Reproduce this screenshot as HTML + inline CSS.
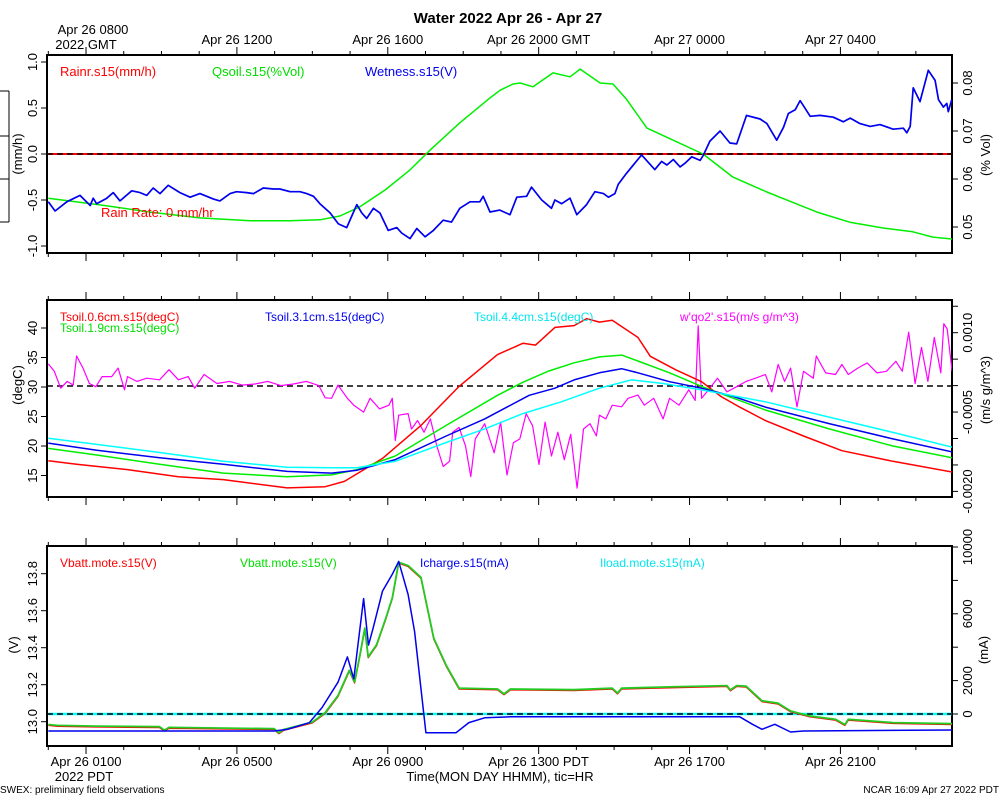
<!DOCTYPE html>
<html><head><meta charset="utf-8"><style>
html,body{margin:0;padding:0;background:#fff;}
svg{display:block;font-family:"Liberation Sans",sans-serif;}
</style></head><body>
<svg id="chart" width="1000" height="800" viewBox="0 0 1000 800"></svg>
<script>
// ---- Panel 1 data ----
const wetT = [0,0.18,0.49,0.84,1.11,1.19,1.28,1.55,1.72,1.90,2.21,2.43,2.61,2.78,2.96,3.18,3.49,3.76,4.02,4.38,4.55,4.82,4.99,5.26,5.44,5.70,5.97,6.14,6.41,6.67,6.85,7.03,7.20,7.47,7.69,7.91,8.18,8.31,8.44,8.62,8.79,9.01,9.24,9.37,9.59,9.77,9.99,10.21,10.47,10.69,10.91,11.18,11.44,11.53,11.71,11.97,12.24,12.42,12.68,12.81,13.08,13.34,13.43,13.61,13.83,14.01,14.27,14.49,14.72,14.85,15.02,15.11,15.33,15.73,16.08,16.26,16.40,16.57,16.75,16.88,17.06,17.28,17.37,17.54,17.81,18.07,18.25,18.51,18.87,19.05,19.31,19.49,19.62,19.80,19.93,20.20,20.46,20.81,21.08,21.26,21.52,21.79,22.05,22.40,22.67,22.76,22.85,22.93,23.11,23.33,23.51,23.60,23.73,23.82,23.86,23.95];
const wetV = [-0.52,-0.62,-0.52,-0.45,-0.56,-0.48,-0.54,-0.48,-0.42,-0.51,-0.40,-0.42,-0.45,-0.37,-0.43,-0.34,-0.42,-0.47,-0.43,-0.49,-0.51,-0.43,-0.41,-0.42,-0.43,-0.37,-0.38,-0.38,-0.41,-0.41,-0.43,-0.46,-0.54,-0.64,-0.76,-0.80,-0.55,-0.64,-0.70,-0.59,-0.64,-0.83,-0.80,-0.86,-0.92,-0.81,-0.90,-0.83,-0.72,-0.74,-0.59,-0.52,-0.52,-0.46,-0.63,-0.61,-0.66,-0.47,-0.46,-0.36,-0.50,-0.59,-0.50,-0.54,-0.48,-0.66,-0.55,-0.41,-0.43,-0.47,-0.43,-0.33,-0.21,-0.01,-0.17,-0.08,-0.12,-0.06,-0.14,-0.10,-0.03,-0.07,-0.01,0.14,0.25,0.12,0.11,0.42,0.38,0.33,0.15,0.29,0.44,0.48,0.58,0.41,0.42,0.40,0.35,0.39,0.33,0.30,0.32,0.27,0.28,0.23,0.30,0.72,0.57,0.91,0.80,0.59,0.51,0.55,0.46,0.59];
const qsoilT = [0,1.37,2.70,4.02,5.35,6.41,7.20,7.73,8.26,8.93,9.59,10.12,10.91,11.71,11.98,12.32,12.51,12.85,13.38,13.83,14.10,14.63,14.97,15.34,15.87,16.56,17.36,18.15,19.05,19.58,20.38,21.25,22.13,22.92,23.45,23.96];
const qsoilV = [0.0560,0.0546,0.0531,0.0519,0.0513,0.0513,0.0515,0.0523,0.0542,0.0577,0.0619,0.0660,0.0717,0.0769,0.0785,0.0798,0.0800,0.0792,0.0821,0.0813,0.0829,0.0800,0.0798,0.0765,0.0706,0.0681,0.0652,0.0604,0.0573,0.0556,0.0531,0.0510,0.0498,0.0490,0.0479,0.0475];
const rainT = [0,24];
const rainV = [0,0];
// ---- Panel 2 data ----
const tsT1 = [0,0.75,2.10,3.45,4.64,6.33,7.34,7.85,8.86,9.88,10.89,11.91,12.58,12.92,13.43,13.94,14.27,14.61,14.95,15.63,15.96,16.64,17.32,17.83,18.33,19.01,20.02,21.04,22.39,23.96];
const ts06 = [17.5,16.9,16.0,14.8,14.3,12.9,13.1,14.0,17.9,23.5,30.1,35.5,37.4,37.1,40.1,40.4,41.6,41.0,41.3,38.4,35.2,32.9,30.9,28.4,26.6,24.3,21.7,19.2,17.4,15.6];
const tsT2 = [0,1.26,2.95,4.64,6.33,7.51,8.19,9.20,10.55,11.91,12.58,13.26,13.94,14.61,15.20,15.63,16.47,17.32,18.16,19.01,20.70,22.39,23.96];
const ts19 = [19.6,18.5,16.9,15.4,14.8,15.1,16.0,18.3,23.5,28.6,30.8,32.7,34.1,35.1,35.4,34.4,32.4,30.1,28.1,26.1,22.9,20.0,18.0];
const tsT3 = [0,1.26,2.95,4.64,6.33,7.51,8.19,9.20,10.55,11.57,12.75,13.43,13.94,14.61,15.20,15.63,16.47,17.32,18.16,19.01,20.70,22.39,23.96];
const ts31 = [20.5,19.3,18.0,16.9,15.7,15.4,15.9,17.7,21.7,24.6,28.6,29.8,31.2,32.4,33.1,32.4,30.9,29.8,28.4,26.6,23.8,21.2,19.0];
const tsT4 = [0,1.26,2.95,4.64,6.33,7.51,8.19,9.20,10.55,11.57,12.58,13.60,14.61,15.46,16.30,17.32,19.01,20.70,22.39,23.96];
const ts44 = [21.3,20.3,18.9,17.4,16.4,16.3,16.3,17.4,20.6,22.9,25.5,27.5,29.8,31.2,30.6,29.5,27.5,24.9,22.3,19.8];
const wqT = [0.00,0.16,0.33,0.50,0.66,0.75,0.92,1.09,1.26,1.43,1.68,1.85,2.02,2.10,2.35,2.61,2.95,3.20,3.45,3.71,3.88,4.13,4.47,4.81,5.14,5.48,5.82,6.16,6.50,6.84,7.17,7.34,7.51,7.68,7.93,8.10,8.36,8.53,8.78,9.03,9.12,9.20,9.29,9.54,9.63,9.79,9.96,10.13,10.30,10.47,10.64,10.72,10.89,11.06,11.20,11.32,11.57,11.82,11.99,12.16,12.33,12.50,12.67,12.84,13.01,13.17,13.34,13.51,13.68,13.85,14.02,14.19,14.36,14.53,14.61,14.78,14.95,15.20,15.37,15.63,15.80,16.05,16.30,16.47,16.72,16.98,17.15,17.23,17.32,17.57,17.74,17.99,18.25,18.50,18.75,19.01,19.18,19.35,19.52,19.68,19.85,20.02,20.28,20.36,20.61,20.87,21.04,21.21,21.46,21.71,21.97,22.22,22.47,22.64,22.81,22.98,23.15,23.32,23.49,23.66,23.74,23.83,23.96];
const wqV = [0.41,0.27,-0.05,0.08,0.01,0.56,0.33,0.04,-0.02,0.17,0.17,0.33,-0.08,0.17,0.08,0.14,0.11,0.30,0.11,0.17,-0.05,0.21,0.04,0.08,0.01,0.03,0.08,0.00,0.03,0.08,0.00,-0.23,-0.24,0.01,-0.24,-0.37,-0.50,-0.24,-0.44,-0.37,-0.24,-1.04,-0.56,-0.53,-0.82,-0.66,-0.88,-0.63,-1.14,-1.53,-1.43,-0.88,-0.79,-1.14,-1.72,-1.01,-0.72,-1.27,-0.69,-1.69,-1.08,-1.01,-0.53,-0.76,-1.49,-0.69,-1.33,-0.88,-1.40,-0.92,-1.94,-0.82,-0.72,-0.95,-0.56,-0.63,-0.37,-0.40,-0.24,-0.18,-0.37,-0.24,-0.63,-0.24,-0.37,-0.08,-0.28,1.13,-0.24,-0.02,0.14,-0.12,-0.02,0.08,0.14,0.21,-0.12,0.40,0.08,0.33,-0.40,0.27,0.14,0.56,0.24,0.21,0.40,0.21,0.33,0.43,0.24,0.27,0.46,0.27,1.01,0.04,0.72,0.08,0.91,0.24,1.17,1.07,0.27];
// ---- Panel 3 data ----
const vbT = [0,0.24,1.26,2.95,3.08,3.20,5.99,6.11,6.24,7.00,7.34,7.68,7.98,8.12,8.27,8.39,8.48,8.70,8.95,9.12,9.29,9.54,9.88,10.05,10.22,10.55,10.89,11.91,12.08,12.25,13.94,14.95,15.09,15.20,16.47,17.99,18.08,18.25,18.50,18.92,19.35,19.68,20.19,20.87,21.12,21.21,22.39,23.96];
const vbV = [12.985,12.980,12.976,12.973,12.954,12.969,12.962,12.940,12.958,12.998,13.049,13.141,13.278,13.214,13.369,13.506,13.351,13.415,13.561,13.670,13.862,13.844,13.780,13.615,13.451,13.305,13.181,13.177,13.150,13.177,13.173,13.181,13.155,13.181,13.188,13.195,13.172,13.195,13.192,13.113,13.100,13.058,13.031,13.013,12.985,13.013,12.995,12.989];
const icT = [0,5.99,6.33,6.92,7.26,7.68,7.93,8.10,8.36,8.49,8.61,8.86,9.12,9.29,9.54,9.71,9.88,10.01,10.81,11.15,11.57,12.25,18.33,18.67,18.92,19.26,19.68,20.02,23.96];
const icV = [-1020,-1020,-925,-521,388,1903,3418,2105,6913,4125,5135,7357,8367,9135,7155,4933,1499,-1119,-1119,-513,-230,-170,-170,-614,-917,-614,-1079,-1020,-958];
const ilT = [0,24];
const ilV = [0,0];
// ticks
const topTickLabels = ["Apr 26 0800","Apr 26 1200","Apr 26 1600","Apr 26 2000 GMT","Apr 27 0000","Apr 27 0400"];
const botTickLabels = ["Apr 26 0100","Apr 26 0500","Apr 26 0900","Apr 26 1300 PDT","Apr 26 1700","Apr 26 2100"];
const p1Left = [1.0,0.5,0.0,-0.5,-1.0];
const p1Right = [0.08,0.07,0.06,0.05];
const p2Left = [40,35,30,25,20,15];
const p2Right = [0.0015,0.0010,0.0005,0,-0.0005,-0.0010,-0.0015,-0.0020];
const p2RightLabels = ["0.0010","-0.0005","-0.0020"];
const p3Left = [13.8,13.6,13.4,13.2,13.0];
const p3Right = [10000,8000,6000,4000,2000,0];
const p3RightLabels = ["10000","6000","2000","0"];

const NS="http://www.w3.org/2000/svg";
const svg=document.getElementById('chart');
const L=47,R=952;
const X=t=>48.3+37.72*t;
function el(tag,attrs,parent){const e=document.createElementNS(NS,tag);for(const k in attrs)e.setAttribute(k,attrs[k]);(parent||svg).appendChild(e);return e;}
function txt(s,x,y,size,color,anchor,rot){const e=el('text',{x:x,y:y,'font-size':size,fill:color||'#000','text-anchor':anchor||'start'});if(rot)e.setAttribute('transform','rotate(-90 '+x+' '+y+')');e.textContent=s;return e;}
function line(ts,vs,fy,color,w,name,clip){const d=ts.map((t,i)=>(i?'L':'M')+X(t).toFixed(1)+' '+fy(vs[i]).toFixed(1)).join(' ');const p=el('path',{d:d,fill:'none',stroke:color,'stroke-width':w||1.5,'stroke-linejoin':'round','clip-path':'url(#'+clip+')'});


return p;}
const defs=el('defs',{});
function panel(id,top,bot){const c=el('clipPath',{id:id},defs);el('rect',{x:L,y:top,width:R-L,height:bot-top},c);
const g=el('rect',{x:L,y:top,width:R-L,height:bot-top,fill:'none',stroke:'#000','stroke-width':2});


for(let h=0;h<=23;h++){const x=X(h);const major=(h%4===1);const len=major?8:4;
el('line',{x1:x,y1:top,x2:x,y2:top-len,stroke:'#000','stroke-width':1});
el('line',{x1:x,y1:bot,x2:x,y2:bot+len,stroke:'#000','stroke-width':1});}}
function yticks(vals,fy,side,fmt,labels){vals.forEach(v=>{const y=fy(v);const s=fmt(v);const show=!labels||labels.indexOf(s)>=0;
if(side==='L'){el('line',{x1:L,y1:y,x2:L-6,y2:y,stroke:'#000'});if(show)txt(s,37,y,13,'#000','middle',true);}
else{el('line',{x1:R,y1:y,x2:R+6,y2:y,stroke:'#000'});if(show)txt(s,972,y,13,'#000','middle',true);}});}

// title
const title=txt('Water 2022 Apr 26 - Apr 27',508,23,15,'#000','middle');title.setAttribute('font-weight','bold');


txt('Apr 26 0800',93,34,13,'#000','middle');txt('2022 GMT',86,49,13,'#000','middle');
topTickLabels.forEach((s,i)=>{if(i>0)txt(s,X(1+4*i),44,13,'#000','middle');});
botTickLabels.forEach((s,i)=>txt(s,X(1+4*i),766,13,'#000','middle'));
txt('2022 PDT',84,781,13,'#000','middle');
txt('Time(MON DAY HHMM), tic=HR',500,781,13,'#000','middle');
txt('SWEX: preliminary field observations',0,793,10,'#000','start');
txt('NCAR 16:09 Apr 27 2022 PDT',999,793,10,'#000','end');

// Panel 1
const y1=v=>154-92*v, yr1=q=>131-(q-0.07)*4800;
panel('p1',55,253);
yticks(p1Left,y1,'L',v=>v.toFixed(1));
yticks(p1Right,yr1,'R',v=>v.toFixed(2));
txt('(mm/h)',22,154,13,'#000','middle',true);
txt('(% Vol)',990,155,13,'#000','middle',true);
el('line',{x1:9,y1:91,x2:9,y2:222,stroke:'#000'});
[91,136,179,222].forEach(y=>el('line',{x1:0,y1:y,x2:9,y2:y,stroke:'#000'}));
line(rainT,rainV,y1,'#ff0000',2,'rainr-line','p1');
el('line',{x1:L,y1:y1(0),x2:R,y2:y1(0),stroke:'#000','stroke-width':1.5,'stroke-dasharray':'6,4'});
line(qsoilT,qsoilV,yr1,'#00ee00',1.5,'qsoil-line','p1');
line(wetT,wetV,y1,'#0000ee',1.7,'wetness-line','p1');
txt('Rainr.s15(mm/h)',60,76,13,'#ff0000');txt('Qsoil.s15(%Vol)',212,76,13,'#00dd00');txt('Wetness.s15(V)',365,76,13,'#0000ee');
txt('Rain Rate: 0 mm/hr',101,217,13,'#ff0000');

// Panel 2
const y2=T=>387-(T-30)*5.9, yr2=m=>385.6-m*52.9;
panel('p2',300,497);
yticks(p2Left,y2,'L',v=>String(v));
yticks(p2Right,v=>yr2(v*1000),'R',v=>v.toFixed(4),p2RightLabels);
txt('(degC)',22,385,13,'#000','middle',true);
txt('(m/s g/m^3)',990,390,13,'#000','middle',true);
el('line',{x1:L,y1:386,x2:R,y2:386,stroke:'#000','stroke-width':1.5,'stroke-dasharray':'6,4'});
line(wqT,wqV,yr2,'#ff00ff',1.2,'wqo2-line','p2');
line(tsT1,ts06,y2,'#ff0000',1.5,'tsoil-0.6cm-line','p2');
line(tsT2,ts19,y2,'#00ee00',1.5,'tsoil-1.9cm-line','p2');
line(tsT3,ts31,y2,'#0000ee',1.5,'tsoil-3.1cm-line','p2');
line(tsT4,ts44,y2,'#00ffff',1.5,'tsoil-4.4cm-line','p2');
txt('Tsoil.0.6cm.s15(degC)',60,321,12,'#ff0000');txt('Tsoil.1.9cm.s15(degC)',60,332,12,'#00dd00');
txt('Tsoil.3.1cm.s15(degC)',265,321,12,'#0000ee');txt('Tsoil.4.4cm.s15(degC)',474,321,12,'#00e5ee');
txt("w'qo2'.s15(m/s g/m^3)",680,321,12,'#ff00ff');

// Panel 3
const y3=V=>721.7-(V-13)*185, yr3=I=>714-I*0.0167;
panel('p3',546,746);
yticks(p3Left,y3,'L',v=>v.toFixed(1));
yticks(p3Right,yr3,'R',v=>String(v),p3RightLabels);
txt('(V)',18,645,13,'#000','middle',true);
txt('(mA)',988,650,13,'#000','middle',true);
line(ilT,ilV,yr3,'#00ffff',2.5,'iload-line','p3');
el('line',{x1:L,y1:714,x2:R,y2:714,stroke:'#000','stroke-width':1.5,'stroke-dasharray':'6,4'});
line(vbT,vbV,v=>y3(v)+0.8,'#ff0000',1.5,'vbatt-red-line','p3');
line(vbT,vbV,y3,'#22cc22',1.8,'vbatt-green-line','p3');
line(icT,icV,yr3,'#0000ee',1.5,'icharge-line','p3');
txt('Vbatt.mote.s15(V)',60,567,12,'#ff0000');txt('Vbatt.mote.s15(V)',240,567,12,'#00dd00');
txt('Icharge.s15(mA)',420,567,12,'#0000ee');txt('Iload.mote.s15(mA)',600,567,12,'#00e5ee');
</script>
</body></html>
